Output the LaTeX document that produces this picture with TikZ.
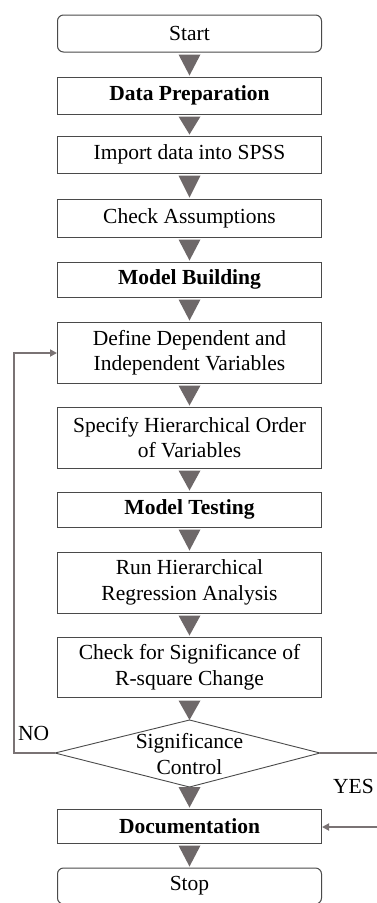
\documentclass[tikz,border=0pt]{standalone}
\usepackage{fontspec}
\setmainfont{Liberation Serif}
\usetikzlibrary{arrows.meta}
\definecolor{boxline}{HTML}{4A4A4A}
\definecolor{tri}{HTML}{6E6869}
\definecolor{loopc}{HTML}{7A7374}
\tikzset{
  stepbox/.style={draw=boxline, line width=1pt, minimum width=264pt, inner sep=0pt, align=center, font=\fontsize{21.5}{25.5}\selectfont},
  termbox/.style={stepbox, rounded corners=6pt},
  tri/.style={fill=tri, draw=none},
  loopline/.style={draw=loopc, line width=2.4pt},
  lbl/.style={font=\fontsize{21.5}{25}\selectfont, inner sep=0pt}
}
\begin{document}
\begin{tikzpicture}[x=1pt,y=-1pt]
\useasboundingbox (0,0) rectangle (377,903);
\node[termbox, minimum height=37pt] (start) at (189.5,33.5) {Start};
\node[stepbox, minimum height=37pt] (prep) at (189.5,95.5) {\textbf{Data Preparation}};
\node[stepbox, minimum height=37pt] (imp) at (189.5,154.5) {Import data into SPSS};
\node[stepbox, minimum height=38pt] (chk) at (189.5,218) {Check Assumptions};
\node[stepbox, minimum height=35pt] (mb) at (189.5,279.5) {\textbf{Model Building}};
\node[stepbox, minimum height=61pt] (def) at (189.5,352.5) {Define Dependent and\\Independent Variables};
\node[stepbox, minimum height=61pt] (spec) at (189.5,437.5) {Specify Hierarchical Order\\of Variables};
\node[stepbox, minimum height=35pt] (mt) at (189.5,509.5) {\textbf{Model Testing}};
\node[stepbox, minimum height=61pt] (run) at (189.5,582.5) {Run Hierarchical\\Regression Analysis};
\node[stepbox, minimum height=60pt] (sig) at (189.5,667) {Check for Significance of\\R-square Change};
\coordinate (dt) at (189.5,720);
\coordinate (db) at (189.5,787);
\coordinate (dl) at (55,753);
\coordinate (dr) at (320,753);
\draw[draw=boxline, line width=0.9pt] (dt) -- (dr) -- (db) -- (dl) -- cycle;
\node[align=center, font=\fontsize{21.5}{25.5}\selectfont, inner sep=0pt] (ctl) at (189.5,754) {Significance\\Control};
\node[stepbox, minimum height=34pt] (doc) at (189.5,826) {\textbf{Documentation}};
\node[termbox, minimum height=36pt] (stop) at (189.5,886) {Stop};
% triangles
\foreach \a/\b in {start/prep, prep/imp, imp/chk, chk/mb, mb/def, def/spec, spec/mt, mt/run, run/sig, doc/stop}{
  \path[tri] ([xshift=-11pt,yshift=-2pt]\a.south) -- ([xshift=11pt,yshift=-2pt]\a.south) -- ([yshift=1pt]\b.north) -- cycle;
}
\path[tri] ([xshift=-11pt,yshift=-3pt]sig.south) -- ([xshift=11pt,yshift=-3pt]sig.south) -- (dt) -- cycle;
\path[tri] ([xshift=-11pt]db) -- ([xshift=11pt]db) -- ([yshift=1pt]doc.north) -- cycle;
% loops
\coordinate (nl) at (14,753);
\coordinate (nt) at (14,353);
\draw[loopline, -{Triangle[length=7pt,width=7pt]}] (dl) -- (nl) -- (nt) -- (def.west |- nt);
\coordinate (yr) at (378,753);
\coordinate (yb) at (378,827);
\draw[loopline, -{Triangle[length=7pt,width=7pt]}] (dr) -- (yr) -- (yb) -- (doc.east |- yb);
\node[lbl, anchor=west] (no) at (18,733) {NO};
\node[lbl, anchor=west] (yes) at (333,786) {YES};
\end{tikzpicture}
\end{document}
